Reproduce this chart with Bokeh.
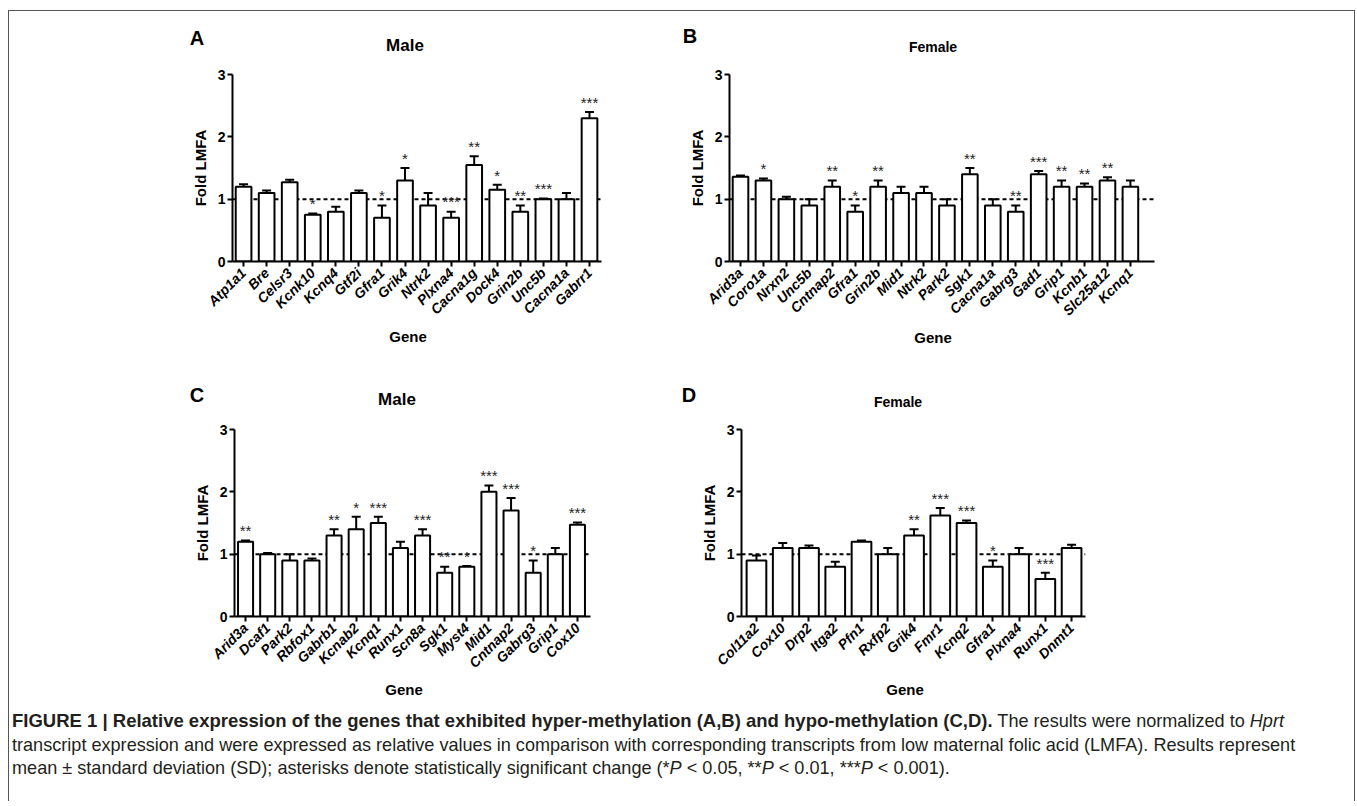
import math
from bokeh.plotting import figure
from bokeh.models import ColumnDataSource, Whisker, TeeHead, Span, FixedTicker, Div
from bokeh.layouts import column, row
from bokeh.core.properties import value
from bokeh.embed import file_html
from bokeh.resources import INLINE

FONT = "Liberation Sans"

# ---------------- data ----------------
genes_a = ["Atp1a1", "Bre", "Celsr3", "Kcnk10", "Kcnq4", "Gtf2i", "Gfra1", "Grik4",
           "Ntrk2", "Plxna4", "Cacna1g", "Dock4", "Grin2b", "Unc5b", "Cacna1a", "Gabrr1"]
mean_a = [1.2, 1.1, 1.27, 0.75, 0.8, 1.1, 0.7, 1.3, 0.9, 0.7, 1.55, 1.15, 0.8, 1.0, 1.0, 2.3]
sd_a = [0.04, 0.04, 0.04, 0.02, 0.08, 0.04, 0.2, 0.2, 0.2, 0.1, 0.14, 0.08, 0.1, 0.01, 0.1, 0.1]
sig_a = ["", "", "", "*", "", "", "*", "*", "", "***", "**", "*", "**", "***", "", "***"]

genes_b = ["Arid3a", "Coro1a", "Nrxn2", "Unc5b", "Cntnap2", "Gfra1", "Grin2b", "Mid1", "Ntrk2",
           "Park2", "Sgk1", "Cacna1a", "Gabrg3", "Gad1", "Grip1", "Kcnb1", "Slc25a12", "Kcnq1"]
mean_b = [1.36, 1.3, 1.0, 0.9, 1.2, 0.8, 1.2, 1.1, 1.1, 0.9, 1.4, 0.9, 0.8, 1.4, 1.2, 1.2, 1.3, 1.2]
sd_b = [0.02, 0.03, 0.04, 0.1, 0.1, 0.1, 0.1, 0.1, 0.1, 0.1, 0.1, 0.1, 0.1, 0.05, 0.1, 0.05, 0.05, 0.1]
sig_b = ["", "*", "", "", "**", "*", "**", "", "", "", "**", "", "**", "***", "**", "**", "**", ""]

genes_c = ["Arid3a", "Dcaf1", "Park2", "Rbfox1", "Gabrb1", "Kcnab2", "Kcnq1", "Runx1",
           "Scn8a", "Sgk1", "Myst4", "Mid1", "Cntnap2", "Gabrg3", "Grip1", "Cox10"]
mean_c = [1.2, 1.0, 0.9, 0.9, 1.3, 1.4, 1.5, 1.1, 1.3, 0.7, 0.8, 2.0, 1.7, 0.7, 1.0, 1.47]
sd_c = [0.02, 0.02, 0.1, 0.03, 0.1, 0.2, 0.1, 0.1, 0.1, 0.1, 0.01, 0.1, 0.2, 0.2, 0.1, 0.04]
sig_c = ["**", "", "", "", "**", "*", "***", "", "***", "**", "*", "***", "***", "*", "", "***"]

genes_d = ["Col11a2", "Cox10", "Drp2", "Itga2", "Pfn1", "Rxfp2", "Grik4", "Fmr1",
           "Kcnq2", "Gfra1", "Plxna4", "Runx1", "Dnmt1"]
mean_d = [0.9, 1.1, 1.1, 0.8, 1.2, 1.0, 1.3, 1.62, 1.5, 0.8, 1.0, 0.6, 1.1]
sd_d = [0.08, 0.08, 0.04, 0.08, 0.02, 0.1, 0.1, 0.12, 0.04, 0.1, 0.1, 0.1, 0.05]
sig_d = ["", "", "", "", "", "", "**", "***", "***", "*", "", "***", ""]

y_ticks = [0, 1, 2, 3]


def panel(genes, means, sds, sigs, size, borders, pads, bar_width):
    w, h = size
    bl, br, bt, bb = borders
    n = len(genes)
    x0, x1 = -pads[0], n - 1 + pads[1]
    p = figure(width=w, height=h, x_range=(x0, x1), y_range=(0, 3),
               output_backend="svg", toolbar_location=None,
               min_border_left=bl, min_border_right=br,
               min_border_top=bt, min_border_bottom=bb)
    p.outline_line_color = None
    p.grid.visible = False
    p.background_fill_color = "white"
    p.border_fill_color = "white"

    xs = list(range(n))
    src = ColumnDataSource(dict(
        x=xs, top=means,
        upper=[m + s for m, s in zip(means, sds)],
        lower=[m - s for m, s in zip(means, sds)],
        sig=sigs,
        sig_y=[m + s + 0.02 for m, s in zip(means, sds)],
    ))

    p.add_layout(Span(location=1, dimension="width", line_color="black",
                      line_width=2, line_dash="4 3", level="underlay"))
    p.vbar(x="x", top="top", bottom=0, width=bar_width, source=src,
           fill_color="white", line_color="black", line_width=2)
    p.add_layout(Whisker(base="x", upper="upper", lower="lower", source=src,
                         line_color="black", line_width=2,
                         upper_head=TeeHead(size=9, line_width=2, line_color="black"),
                         lower_head=TeeHead(size=9, line_width=2, line_color="black")))
    p.text(x="x", y="sig_y", text="sig", source=src, text_font=value(FONT),
           text_font_size="15px", text_align="center", text_baseline="bottom",
           text_color="#222222")

    xa = p.xaxis[0]
    xa.ticker = FixedTicker(ticks=xs)
    xa.major_label_overrides = {i: g for i, g in enumerate(genes)}
    xa.major_label_orientation = math.pi / 4
    xa.major_label_text_font = FONT
    xa.major_label_text_font_style = "bold italic"
    xa.major_label_text_font_size = "14px"
    xa.major_label_standoff = 4
    ya = p.yaxis[0]
    ya.ticker = FixedTicker(ticks=y_ticks)
    ya.axis_label = "Fold LMFA"
    ya.axis_label_text_font = FONT
    ya.axis_label_text_font_style = "bold"
    ya.axis_label_text_font_size = "15px"
    ya.axis_label_text_color = "black"
    ya.axis_label_standoff = 6
    ya.major_label_text_font = FONT
    ya.major_label_text_font_style = "bold"
    ya.major_label_text_font_size = "14px"
    ya.major_label_standoff = 2
    for ax in (xa, ya):
        ax.axis_line_width = 2
        ax.axis_line_color = "black"
        ax.major_tick_line_width = 2
        ax.major_tick_line_color = "black"
        ax.major_tick_out = 5
        ax.major_tick_in = 0
        ax.minor_tick_line_color = None
        ax.major_label_text_color = "black"
    return p


def text_strip(width, height, items):
    spans = []
    for (txt, x, y, size, weight) in items:
        spans.append(
            f"<span style=\"position:absolute;left:{x}px;top:{y}px;"
            f"transform:translate(-50%,-50%);white-space:nowrap;line-height:1;"
            f"font-size:{size}px;font-weight:{weight};color:#000;\">{txt}</span>")
    html = (f"<div style=\"position:relative;width:{width}px;height:{height}px;"
            f"font-family:'Liberation Sans',Arial,sans-serif;\">" + "".join(spans) + "</div>")
    return Div(text=html, width=width, height=height, margin=0)


W = 1345

header1 = text_strip(W, 48, [("A", 188, 27, 20, "bold"), ("Male", 396, 34, 17, "bold"),
                             ("B", 681, 25, 20, "bold"), ("Female", 924, 36, 14, "bold")])
pA = panel(genes_a, mean_a, sd_a, sig_a, size=(671, 268), borders=(223, 79, 15, 64),
           pads=(0.48, 0.52), bar_width=0.68)
pB = panel(genes_b, mean_b, sd_b, sig_b, size=(674, 268), borders=(49, 200, 15, 64),
           pads=(0.48, 1.05), bar_width=0.68)
gene1 = text_strip(W, 29, [("Gene", 399, 9, 15, "bold"), ("Gene", 924, 10, 15, "bold")])

header2 = text_strip(W, 56, [("C", 188, 39, 20, "bold"), ("Male", 388, 43, 17, "bold"),
                             ("D", 680, 39, 20, "bold"), ("Female", 889, 46, 14, "bold")])
pC = panel(genes_c, mean_c, sd_c, sig_c, size=(671, 268), borders=(225, 90, 15, 64),
           pads=(0.5, 0.59), bar_width=0.68)
pD = panel(genes_d, mean_d, sd_d, sig_d, size=(674, 268), borders=(61, 269, 17, 62),
           pads=(0.57, 0.53), bar_width=0.75)
gene2 = text_strip(W, 26, [("Gene", 395, 9, 15, "bold"), ("Gene", 896, 9, 15, "bold")])

caption_html = (
    "<div style=\"font-family:'Liberation Sans',Arial,sans-serif;font-size:18.1px;"
    "line-height:23.5px;color:#231f20;padding:3px 0 0 3px;white-space:nowrap;\">"
    "<b style=\"font-size:18.5px;\">FIGURE 1 | Relative expression of the genes that exhibited "
    "hyper-methylation (A,B) and hypo-methylation (C,D).</b> The results were normalized to "
    "<i>Hprt</i><br>"
    "transcript expression and were expressed as relative values in comparison with "
    "corresponding transcripts from low maternal folic acid (LMFA). Results represent<br>"
    "mean &plusmn; standard deviation (SD); asterisks denote statistically significant change "
    "(*<i>P</i> &lt; 0.05, **<i>P</i> &lt; 0.01, ***<i>P</i> &lt; 0.001)."
    "</div>"
)
caption = Div(text=caption_html, width=W, height=95, margin=0)

layout = column(header1, row(pA, pB), gene1, header2, row(pC, pD), gene2, caption,
                margin=(10, 0, 0, 8),
                styles={"border": "1px solid #555555", "border-bottom": "none"})

open("out.html", "w").write(file_html(layout, INLINE))
